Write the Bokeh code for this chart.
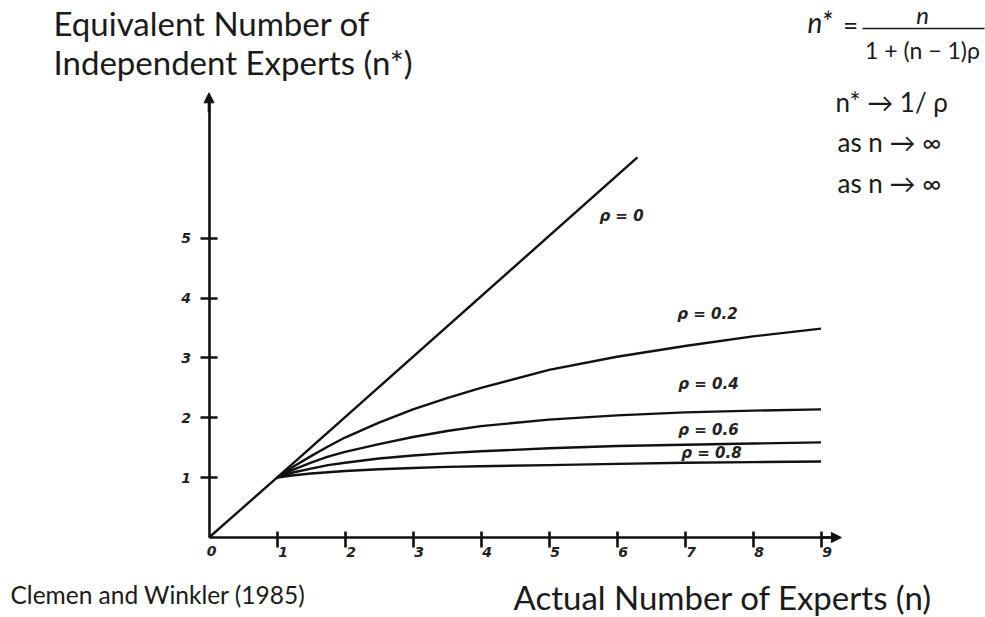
from bokeh.plotting import figure
from bokeh.models import LinearAxis, FixedTicker, Label, Arrow, NormalHead
from bokeh.core.properties import value
from bokeh.embed import file_html
from bokeh.resources import INLINE

# ---- data ----
n_grid = [1, 1.25, 1.5, 1.75, 2, 2.5, 3, 3.5, 4, 5, 6, 7, 8, 9]
rho0_n = [0, 1, 6.30]
rho0_v = [0, 1, 6.35]
rho02_v = [1, 1.19, 1.36, 1.52, 1.67, 1.92, 2.14, 2.33, 2.50, 2.80, 3.02, 3.20, 3.36, 3.49]
rho04_v = [1, 1.14, 1.25, 1.35, 1.43, 1.56, 1.68, 1.78, 1.86, 1.97, 2.04, 2.09, 2.12, 2.14]
rho06_v = [1, 1.09, 1.15, 1.21, 1.25, 1.32, 1.37, 1.41, 1.44, 1.49, 1.53, 1.55, 1.57, 1.59]
rho08_v = [1, 1.04, 1.07, 1.09, 1.11, 1.14, 1.16, 1.18, 1.19, 1.21, 1.23, 1.25, 1.26, 1.27]
x_ticks = [1, 2, 3, 4, 5, 6, 7, 8, 9]
x_tick_labels = ["1", "2", "3", "4", "5", "6", "7", "8", "9"]
y_ticks = [1, 2, 3, 4, 5]
curve_labels = ["ρ = 0", "ρ = 0.2", "ρ = 0.4", "ρ = 0.6", "ρ = 0.8"]

# page-pixel -> data helpers (for placing annotation texts)
X0, SX, Y0, SY = 208.5, 68.0, 537.0, 59.85
def dx(px):
    return (px - X0) / SX
def dy(py):
    return (Y0 - py) / SY

W, H = 985, 617
p = figure(width=W, height=H, x_range=(dx(0), dx(W)), y_range=(dy(H), dy(0)),
           output_backend="svg", toolbar_location=None,
           x_axis_location=None, y_axis_location=None, min_border=0)
p.outline_line_color = None
p.background_fill_color = "white"
p.border_fill_color = "white"
p.grid.visible = False

INK = "#111111"
LBL = "#222222"

# axes
xax = LinearAxis(fixed_location=0, ticker=FixedTicker(ticks=x_ticks), bounds=(0, 9.2))
yax = LinearAxis(fixed_location=0, ticker=FixedTicker(ticks=y_ticks), bounds=(0, 7.3))
for ax in (xax, yax):
    ax.axis_line_width = 2.6
    ax.axis_line_color = INK
    ax.major_tick_line_width = 2.6
    ax.major_tick_line_color = INK
    ax.minor_tick_line_color = None
    ax.major_label_text_font = "DejaVu Sans"
    ax.major_label_text_font_style = "bold italic"
    ax.major_label_text_font_size = "14px"
    ax.major_label_text_color = LBL
xax.major_tick_in = 6
xax.major_tick_out = 10
xax.major_label_overrides = {t: "" for t in x_ticks}
yax.major_tick_in = 8
yax.major_tick_out = 9
yax.major_label_standoff = 9
p.add_layout(xax, "below")
p.add_layout(yax, "left")

# x tick labels, set to the lower right of each tick as in the original drawing
p.text(x=x_ticks, y=[0] * len(x_ticks), text=x_tick_labels, x_offset=6, y_offset=14,
       text_font=value("DejaVu Sans"), text_font_style="bold italic", text_font_size="14px",
       text_color=LBL, text_align="center", text_baseline="middle")

p.add_layout(Arrow(end=NormalHead(size=10, fill_color=INK, line_color=INK), line_color=INK,
                   line_width=2.6, x_start=0, y_start=7.1, x_end=0, y_end=7.43))
p.add_layout(Arrow(end=NormalHead(size=10, fill_color=INK, line_color=INK), line_color=INK,
                   line_width=2.6, x_start=9.0, y_start=0, x_end=9.3, y_end=0))

p.add_layout(Label(x=dx(211), y=dy(550), text="0", text_font="DejaVu Sans",
                   text_font_style="bold italic", text_font_size="14px", text_color=LBL,
                   text_align="center", text_baseline="middle"))

# curves
p.line(rho0_n, rho0_v, line_width=2.4, line_color=INK)
for vals in (rho02_v, rho04_v, rho06_v, rho08_v):
    p.line(n_grid, vals, line_width=2.4, line_color=INK)

# curve labels
lab_pos = [(621, 215), (707, 313), (708, 383), (708, 429), (711, 452)]
for t, (lx, ly) in zip(curve_labels, lab_pos):
    p.add_layout(Label(x=dx(lx), y=dy(ly), text=t, text_font="DejaVu Sans",
                       text_font_style="bold italic", text_font_size="15px",
                       text_color=LBL, text_align="center", text_baseline="middle"))

TXT = "#1a1a1a"
def lab(px, py, text, size, align="left", base="alphabetic", style="normal", font="Lato"):
    p.add_layout(Label(x=dx(px), y=dy(py), text=text, text_font=font, text_font_size=size,
                       text_font_style=style, text_color=TXT, text_align=align,
                       text_baseline=base))

# y title
lab(53, 22, "Equivalent Number of", "33px")
lab(53, 61, "Independent Experts (n*)", "33px")
# x title
lab(513, 596, "Actual Number of Experts (n)", "33px")
lab(10, 594, "Clemen and Winkler (1985)", "24.5px")

# formula
lab(807, 21, "n*", "28px", base="middle", style="italic")
lab(850, 24, "=", "26px", align="center", base="middle")
lab(922, 14, "n", "24px", align="center", base="middle", style="italic")
p.segment(x0=[dx(862)], y0=[dy(28)], x1=[dx(984)], y1=[dy(28)], line_color=TXT, line_width=1.5)
lab(922, 49, "1 + (n − 1)ρ", "23px", align="center", base="middle")
lab(835, 101, "n* → 1/ ρ", "26px", base="middle")
lab(837, 141, "as n → ∞", "26px", base="middle")
lab(837, 182, "as n → ∞", "26px", base="middle")

open("out.html", "w").write(file_html(p, INLINE))
